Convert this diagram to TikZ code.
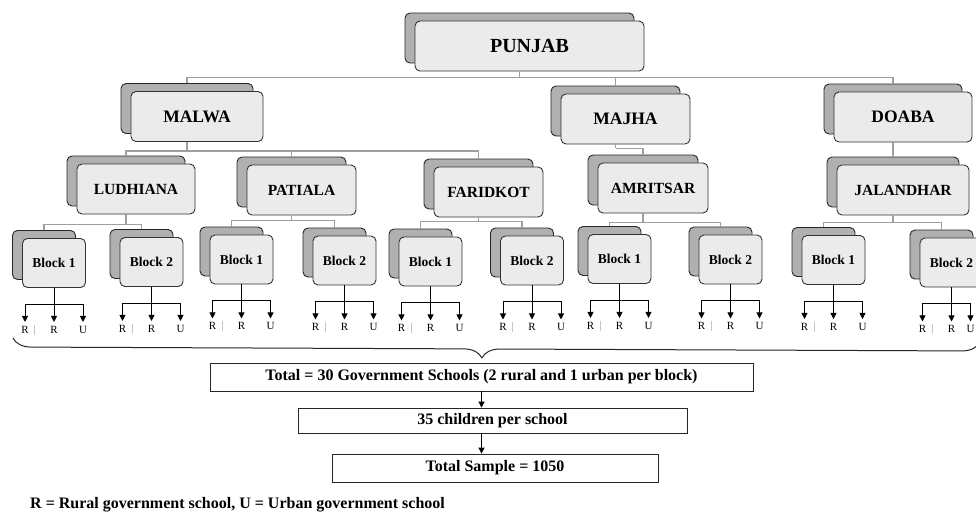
\documentclass[tikz,border=0pt]{standalone}
\usepackage{fontspec}
\setmainfont{Liberation Serif}
\usetikzlibrary{calc,positioning,shadows,arrows.meta,decorations.pathreplacing}

\begin{document}
\begin{tikzpicture}[
  x=1pt, y=-1pt,
  tile/.style={draw=black!80, line width=0.9pt, fill=gray!16, rounded corners=5pt, inner sep=0pt,
    copy shadow={shadow xshift=-10pt, shadow yshift=8pt, fill=gray!62, draw=black!85, line width=0.9pt}},
  toplevel/.style={tile, minimum width=229pt, minimum height=50pt, font=\bfseries\fontsize{20}{24}\selectfont},
  region/.style={tile, minimum height=50pt, font=\bfseries\fontsize{17.5}{21}\selectfont},
  district/.style={tile, minimum height=50pt, font=\bfseries\fontsize{15.5}{19}\selectfont},
  block/.style={tile, minimum width=63pt, minimum height=49pt, font=\bfseries\fontsize{13.5}{16}\selectfont},
  conn/.style={draw=gray!75, line width=1.3pt},
  arr/.style={draw=black, line width=0.8pt, -{Triangle[length=6pt,width=6pt]}},
  lab/.style={font=\fontsize{11}{13}\selectfont, inner xsep=1pt, inner ysep=4pt, text height=7.3pt, text depth=0pt, anchor=north},
  cursor/.style={draw=gray!45, line width=0.5pt},
  sumbox/.style={draw=black!85, line width=0.8pt, inner sep=0pt, font=\bfseries\fontsize{16}{19}\selectfont},
  bracepath/.style={draw=black!85, line width=1pt, decorate, decoration={brace, mirror, amplitude=18pt, aspect=0.485}}
]
\useasboundingbox (0,0) rectangle (976,515);

% hierarchy
\node[toplevel] (punjab) at (529.5,46) {PUNJAB};

\node[region, minimum width=132pt] (malwa) at (197,116.5) {MALWA};
\node[region, minimum width=129pt] (majha) at (625.5,119) {MAJHA};
\node[region, minimum width=138pt] (doaba) at (903,117) {DOABA};

\node[district, minimum width=118pt] (ludhiana) at (136,189) {LUDHIANA};
\node[district, minimum width=109pt] (patiala) at (301.5,190) {PATIALA};
\node[district, minimum width=109pt] (faridkot) at (488.5,192) {FARIDKOT};
\node[district, minimum width=110pt] (amritsar) at (653,188) {AMRITSAR};
\node[district, minimum width=132pt] (jalandhar) at (903,190) {JALANDHAR};

\node[block] (lb1) at (54,263) {Block 1};
\node[block] (lb2) at (151.5,262) {Block 2};
\node[block] (pb1) at (241.5,259.5) {Block 1};
\node[block] (pb2) at (344.5,260.5) {Block 2};
\node[block] (fb1) at (430.5,261.5) {Block 1};
\node[block] (fb2) at (532,260.5) {Block 2};
\node[block] (ab1) at (619.5,259) {Block 1};
\node[block] (ab2) at (730.5,259.5) {Block 2};
\node[block] (jb1) at (833.5,260) {Block 1};
\node[block] (jb2) at (951.5,262.5) {Block 2};

% gray connectors
\draw[conn] ($(punjab.south)+(-10,0)$) -- ++(0,6) coordinate (pj);
\draw[conn] (pj) -| ($(malwa.north)+(-10,-8)$);
\draw[conn] (pj) -| ($(majha.north)+(-10,-8)$);
\draw[conn] (pj) -| ($(doaba.north)+(-10,-8)$);

\draw[conn] ($(malwa.south)+(-10,0)$) -- ++(0,9) coordinate (mw);
\draw[conn] (mw) -| ($(ludhiana.north)+(-10,-8)$);
\draw[conn] (mw) -| ($(patiala.north)+(-10,-8)$);
\draw[conn] (mw) -| ($(faridkot.north)+(-10,-8)$);
\draw[conn] ($(majha.south)+(-10,0)$) -- ++(0,4) coordinate (mj);
\draw[conn] (mj) -| ($(amritsar.north)+(-10,-8)$);
\draw[conn] ($(doaba.south)+(-10,0)$) -- ($(jalandhar.north)+(-10,-8)$);

\draw[conn] ($(ludhiana.south)+(-10,0)$) -- ++(0,10) coordinate (ld);
\draw[conn] (ld) -| ($(lb1.north)+(-10,-8)$);
\draw[conn] (ld) -| ($(lb2.north)+(-10,-8)$);
\draw[conn] ($(patiala.south)+(-10,0)$) -- ++(0,5) coordinate (pt);
\draw[conn] (pt) -| ($(pb1.north)+(-10,-8)$);
\draw[conn] (pt) -| ($(pb2.north)+(-10,-8)$);
\draw[conn] ($(faridkot.south)+(-10,0)$) -- ++(0,4) coordinate (fk);
\draw[conn] (fk) -| ($(fb1.north)+(-10,-8)$);
\draw[conn] (fk) -| ($(fb2.north)+(-10,-8)$);
\draw[conn] ($(amritsar.south)+(-10,0)$) -- ++(0,9) coordinate (am);
\draw[conn] (am) -| ($(ab1.north)+(-10,-8)$);
\draw[conn] (am) -| ($(ab2.north)+(-10,-8)$);
\draw[conn] ($(jalandhar.south)+(-10,0)$) -- ++(0,7) coordinate (jl);
\draw[conn] (jl) -| ($(jb1.north)+(-10,-8)$);
\draw[conn] (jl) -| ($(jb2.north)+(-10,-8)$);

% schools under every block (last U pulled in to stay on the page)
\foreach \b/\du in {lb1/29,lb2/29,pb1/29,pb2/29,fb1/29,fb2/29,ab1/29,ab2/29,jb1/29,jb2/19}{
  \node[lab] (\b-r1) at ($(\b.south)+(-29,34)$) {R};
  \node[lab] (\b-r2) at ($(\b.south)+(0,34)$) {R};
  \node[lab] (\b-u) at ($(\b.south)+(\du,34)$) {U};
  \draw[arr] (\b.south) -- (\b-r2.north);
  \draw[arr] ($(\b.south)+(0,16)$) -| (\b-r1.north);
  \draw[arr] ($(\b.south)+(0,16)$) -| (\b-u.north);
  \draw[cursor] ($(\b-r1.east)+(4.5,-5)$) -- ++(0,10);
}

% totals
\coordinate (bl) at (13,338);
\coordinate (br) at (980,342);
\draw[bracepath] (bl) -- (br);

\node[sumbox, minimum width=543pt, minimum height=28pt] (total) at (481.5,377)
  {Total = 30 Government Schools (2 rural and 1 urban per block)};
\node[sumbox, minimum width=389pt, minimum height=25pt] (kids) at (492.5,420.5) {35 children per school};
\node[sumbox, minimum width=326pt, minimum height=28pt] (sample) at (495,468) {Total Sample = 1050};
\draw[arr] (total.south) -- (total.south |- kids.north);
\draw[arr] (total.south |- kids.south) -- (total.south |- sample.north);

\node[anchor=west, inner sep=0pt, font=\bfseries\fontsize{16}{19}\selectfont] (legend) at (30,505)
  {R = Rural government school, U = Urban government school};
\end{tikzpicture}
\end{document}
